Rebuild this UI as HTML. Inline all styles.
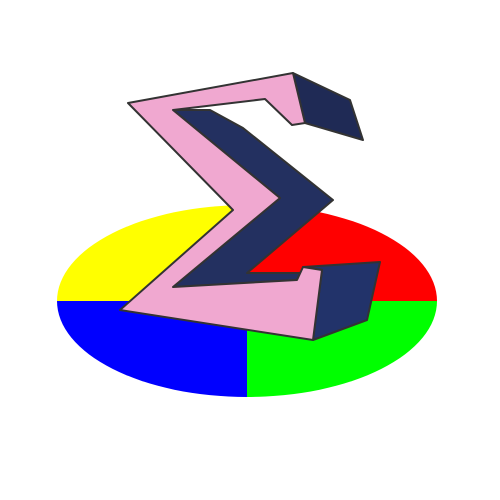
<!DOCTYPE html>
<html><head><style>body{margin:0;background:#fff}svg{display:block}</style></head>
<body>
<svg width="500" height="500" viewBox="0 0 500 500">
<defs><clipPath id="e"><ellipse cx="247" cy="301" rx="190" ry="96"/></clipPath></defs>
<g clip-path="url(#e)">
<rect x="40" y="200" width="207" height="101" fill="#ffff00"/>
<rect x="247" y="200" width="200" height="101" fill="#ff0000"/>
<rect x="40" y="301" width="207" height="100" fill="#0000ff"/>
<rect x="247" y="301" width="200" height="100" fill="#00ff00"/>
</g>
<g stroke="#333" stroke-width="2" stroke-linejoin="round">
<polygon points="293,73 350,100 363,140 305,123" fill="#1f2a55"/>
<polygon points="173,110 210,110 243,128 333,200 247,273 300,273 297,280 173,287 280,198" fill="#233060"/>
<polygon points="303,267 380,262 367,320 313,340 322,270" fill="#22336a"/>
<polygon points="128,103 293,73 305,123 292,125 265,99 173,110 280,198 173,287 297,280 303,267 322,270 313,340 120,310 233,210" fill="#f0a8d0"/>
</g>
</svg>
</body></html>
